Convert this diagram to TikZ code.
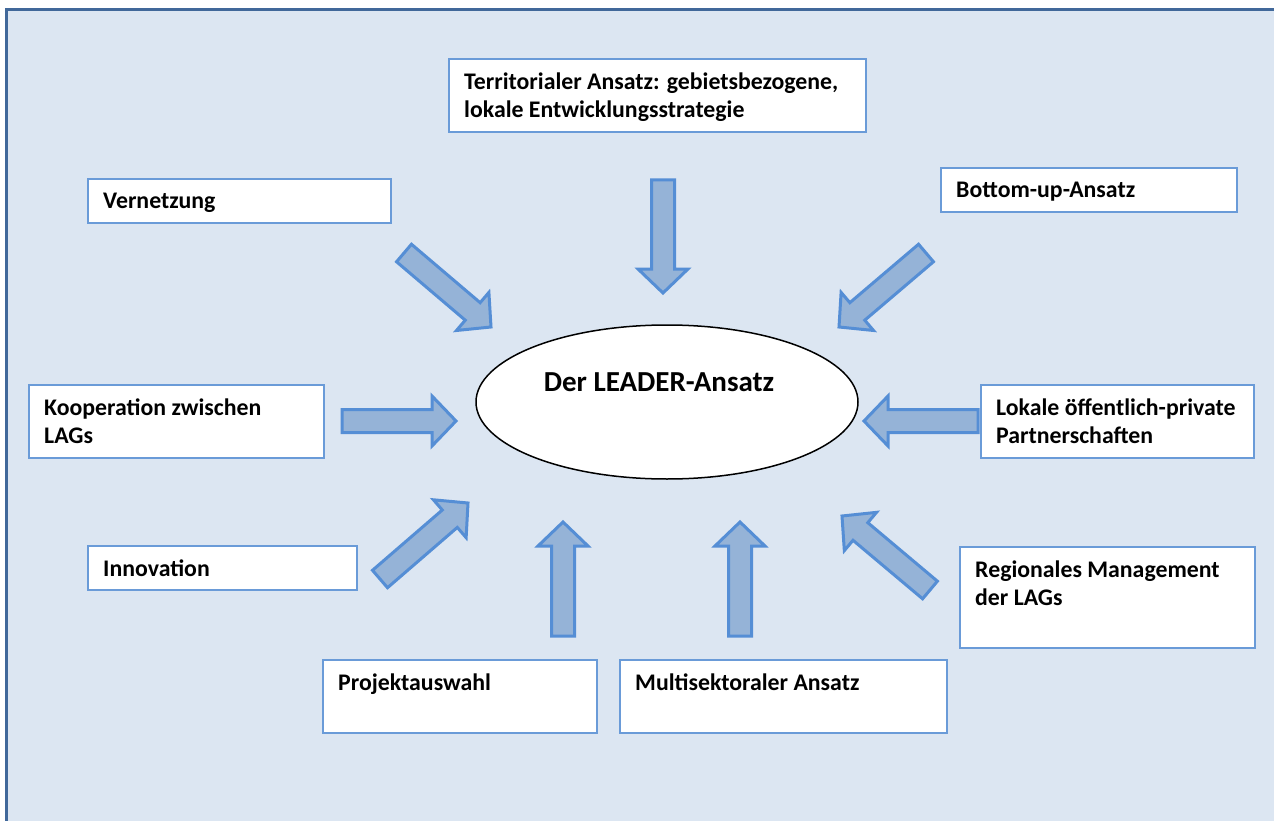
\documentclass[tikz,border=0pt]{standalone}
\usepackage{fontspec}
\setmainfont{Carlito}
\usetikzlibrary{calc,shapes.geometric}
\definecolor{bgblue}{HTML}{DCE6F2}
\definecolor{framecol}{HTML}{41689A}
\definecolor{arrfill}{HTML}{95B3D7}
\definecolor{arrline}{HTML}{558ED5}
\definecolor{boxline}{HTML}{6A9BD8}
\tikzset{
  frame/.style={draw=framecol, line width=2.5pt, fill=bgblue},
  box/.style={draw=boxline, line width=1.5pt, fill=white, rectangle, inner sep=0pt, outer sep=0pt, anchor=north west},
  lbl/.style={anchor=north west, inner sep=0pt, align=left, font=\bfseries\fontsize{23.8}{27.5}\selectfont},
  barrow/.style={fill=arrfill, draw=arrline, line width=3pt, line join=miter},
  centre/.style={draw=black, line width=1.5pt, fill=white, ellipse, inner sep=0pt}
}
\newcommand\tbox[6]{%
  \node[box, minimum width=#4, minimum height=#5] (#1) at (#2,#3) {};
  \node[lbl] (#1t) at ($(#1.north west)+(15,14)$) {#6};
}
\newcommand\barr[2]{%
  \draw[barrow] let \p1=(#1), \p2=(#2),
    \n1={atan2(\y2-\y1,\x2-\x1)}, \n2={veclen(\x2-\x1,\y2-\y1)-24} in
    ($(\p1)+(\n1+90:11.5pt)$) -- ($(\p1)+(\n1:\n2)+(\n1+90:11.5pt)$)
    -- ($(\p1)+(\n1:\n2)+(\n1+90:25pt)$) -- (\p2)
    -- ($(\p1)+(\n1:\n2)+(\n1-90:25pt)$) -- ($(\p1)+(\n1:\n2)+(\n1-90:11.5pt)$)
    -- ($(\p1)+(\n1-90:11.5pt)$) -- cycle;
}
\begin{document}
\begin{tikzpicture}[x=1pt,y=-1pt]
\useasboundingbox (0,0) rectangle (1274,821);
\fill[white] (0,0) rectangle (1274,821);
\draw[frame] (6.5,9.5) rectangle (1300,850);

% centre
\node[centre, minimum width=382, minimum height=154] (leader) at (667,402) {};
\node[font=\bfseries\fontsize{29}{34}\selectfont, inner sep=0pt] (leadert) at (659,382) {Der LEADER-Ansatz};

% boxes
\tbox{terr}{449}{59}{417}{73}{Territorialer Ansatz: gebietsbezogene,\\lokale Entwicklungsstrategie}
\tbox{vern}{88}{179}{303}{44}{Vernetzung}
\tbox{botu}{941}{168}{296}{44}{Bottom-up-Ansatz}
\tbox{koop}{29}{385}{295}{73}{Kooperation zwischen\\LAGs}
\tbox{lokal}{981}{385}{273}{73}{Lokale öffentlich-private\\Partnerschaften}
\tbox{inno}{88}{546}{269}{44}{Innovation}
\tbox{regio}{960}{547}{295}{101}{Regionales Management\\der LAGs}
\tbox{proj}{323}{660}{274}{73}{Projektauswahl}
\tbox{multi}{620}{660}{327}{73}{Multisektoraler Ansatz}

% arrow ends
\coordinate (a1t) at (404,253); \coordinate (a1h) at (491,327);
\coordinate (a2t) at (663,180); \coordinate (a2h) at (663,293);
\coordinate (a3t) at (926,253); \coordinate (a3h) at (839,327);
\coordinate (a4t) at (342,421); \coordinate (a4h) at (456,421);
\coordinate (a5t) at (978,421); \coordinate (a5h) at (864,421);
\coordinate (a6t) at (380,579); \coordinate (a6h) at (468,503);
\coordinate (a7t) at (563,636); \coordinate (a7h) at (563,522);
\coordinate (a8t) at (740,636); \coordinate (a8h) at (740,522);
\coordinate (a9t) at (930,590); \coordinate (a9h) at (842,516);

\barr{a1t}{a1h}
\barr{a2t}{a2h}
\barr{a3t}{a3h}
\barr{a4t}{a4h}
\barr{a5t}{a5h}
\barr{a6t}{a6h}
\barr{a7t}{a7h}
\barr{a8t}{a8h}
\barr{a9t}{a9h}
\end{tikzpicture}
\end{document}
